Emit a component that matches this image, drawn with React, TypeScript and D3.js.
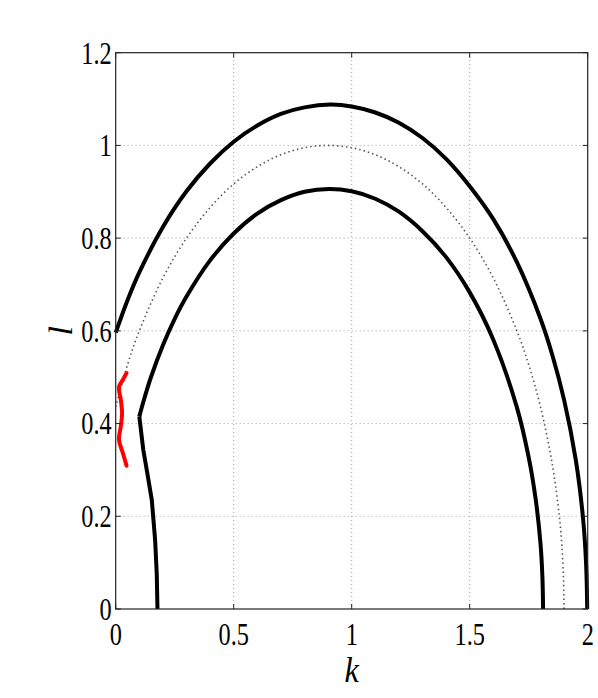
import React from 'react';
import * as d3 from 'd3';

// tick values
const kTicks = [0, 0.5, 1, 1.5, 2];
const lTicks = [0, 0.2, 0.4, 0.6, 0.8, 1, 1.2];

// outer solid curve [k, l]
const outerCurve: [number, number][] = [
  [0, 0.596], [0.05, 0.666], [0.1, 0.726], [0.2, 0.824], [0.3, 0.901], [0.4, 0.961],
  [0.5, 1.008], [0.6, 1.043], [0.7, 1.068], [0.8, 1.082], [0.91, 1.088], [1.0, 1.084],
  [1.1, 1.071], [1.2, 1.049], [1.3, 1.016], [1.4, 0.971], [1.5, 0.912], [1.6, 0.841],
  [1.7, 0.748], [1.8, 0.626], [1.85, 0.548], [1.9, 0.451], [1.95, 0.32], [1.98, 0.197],
  [1.993, 0.1], [1.998, 0],
];

// inner solid curve, upper arc from the kink
const innerArc: [number, number][] = [
  [0.1, 0.415], [0.12, 0.452], [0.15, 0.501], [0.2, 0.569], [0.25, 0.626], [0.3, 0.674],
  [0.4, 0.752], [0.5, 0.81], [0.6, 0.853], [0.7, 0.882], [0.8, 0.9], [0.905, 0.906],
  [1.0, 0.901], [1.1, 0.885], [1.2, 0.857], [1.3, 0.815], [1.4, 0.759], [1.5, 0.683],
  [1.6, 0.581], [1.7, 0.435], [1.75, 0.327], [1.78, 0.235], [1.8, 0.141], [1.808, 0.07],
  [1.811, 0],
];

// inner solid curve, lower branch below the kink
const innerLower: [number, number][] = [
  [0.1, 0.415], [0.117, 0.343], [0.135, 0.29], [0.153, 0.235], [0.167, 0.149],
  [0.174, 0.075], [0.177, 0],
];

// dotted curve
const dottedCurve: [number, number][] = [
  [0, 0.436], [0.05, 0.527], [0.1, 0.6], [0.2, 0.714], [0.3, 0.8], [0.4, 0.866],
  [0.5, 0.917], [0.6, 0.954], [0.7, 0.98], [0.8, 0.995], [0.9, 1.0], [1.0, 0.995],
  [1.1, 0.98], [1.2, 0.954], [1.3, 0.917], [1.4, 0.866], [1.5, 0.8], [1.6, 0.714],
  [1.7, 0.6], [1.75, 0.527], [1.8, 0.436], [1.85, 0.312], [1.88, 0.199], [1.89, 0.141],
  [1.897, 0.07], [1.9, 0],
];

// red bracket near the l axis
const redCurve: [number, number][] = [
  [0.046, 0.509], [0.03, 0.494], [0.014, 0.479], [0.022, 0.45], [0.027, 0.423],
  [0.022, 0.395], [0.014, 0.365], [0.03, 0.337], [0.046, 0.309],
];

export default function App() {
  const x = d3.scaleLinear().domain([0, 2]).range([115.7, 587.7]);
  const y = d3.scaleLinear().domain([0, 1.2]).range([609, 52.7]);

  const smooth = d3
    .line<[number, number]>()
    .x((d) => x(d[0]))
    .y((d) => y(d[1]))
    .curve(d3.curveCatmullRom);

  const straight = d3
    .line<[number, number]>()
    .x((d) => x(d[0]))
    .y((d) => y(d[1]));

  const [x0, x1] = x.range();
  const [y0, y1] = y.range();
  const font = '"Liberation Serif", "DejaVu Serif", serif';

  return (
    <svg
      width={598}
      height={698}
      style={{ position: 'absolute', left: 0, top: 0, background: '#fff' }}
    >
      {/* grid */}
      {kTicks.slice(1, -1).map((t) => (
        <line key={'gx' + t} x1={x(t)} x2={x(t)} y1={y0} y2={y1}
          stroke="#999" strokeWidth={0.9} strokeDasharray="1 3" />
      ))}
      {lTicks.slice(1, -1).map((t) => (
        <line key={'gy' + t} x1={x0} x2={x1} y1={y(t)} y2={y(t)}
          stroke="#999" strokeWidth={0.9} strokeDasharray="1 3" />
      ))}

      {/* curves */}
      <path d={smooth(dottedCurve) ?? ''} fill="none" stroke="#555"
        strokeWidth={1.6} strokeDasharray="1.5 3" />
      <path d={smooth(outerCurve) ?? ''} fill="none" stroke="#000"
        strokeWidth={4} strokeLinejoin="round" />
      <path d={smooth(innerArc) ?? ''} fill="none" stroke="#000"
        strokeWidth={4} strokeLinejoin="round" />
      <path d={straight(innerLower) ?? ''} fill="none" stroke="#000"
        strokeWidth={4} strokeLinejoin="round" />
      <path d={smooth(redCurve) ?? ''} fill="none" stroke="#f00"
        strokeWidth={4} strokeLinejoin="round" strokeLinecap="round" />

      {/* box */}
      <rect x={x0} y={y1} width={x1 - x0} height={y0 - y1}
        fill="none" stroke="#222" strokeWidth={1.2} />

      {/* ticks */}
      {kTicks.map((t) => (
        <g key={'tk' + t}>
          <line x1={x(t)} x2={x(t)} y1={y0} y2={y0 - 5} stroke="#222" />
          <line x1={x(t)} x2={x(t)} y1={y1} y2={y1 + 5} stroke="#222" />
        </g>
      ))}
      {lTicks.map((t) => (
        <g key={'tl' + t}>
          <line x1={x0} x2={x0 + 5} y1={y(t)} y2={y(t)} stroke="#222" />
          <line x1={x1} x2={x1 - 5} y1={y(t)} y2={y(t)} stroke="#222" />
        </g>
      ))}

      {/* tick labels */}
      {kTicks.map((t) => (
        <g key={'lk' + t} transform={`translate(${x(t)},645) scale(0.76,1)`}>
          <text textAnchor="middle" fontFamily={font} fontSize={32} fill="#000">
            {d3.format('~g')(t)}
          </text>
        </g>
      ))}
      {lTicks.map((t) => (
        <g key={'ll' + t} transform={`translate(${x0 - 4},${y(t)}) scale(0.76,1)`}>
          <text textAnchor="end" dy="0.34em" fontFamily={font} fontSize={32} fill="#000">
            {d3.format('~g')(t)}
          </text>
        </g>
      ))}

      {/* axis titles */}
      <g transform={`translate(${(x0 + x1) / 2},682) scale(0.9,1)`}>
        <text textAnchor="middle" fontFamily={font} fontStyle="italic" fontSize={36}>
          k
        </text>
      </g>
      <g transform={`translate(72,${(y0 + y1) / 2}) rotate(-90)`}>
        <text textAnchor="middle" fontFamily={font} fontStyle="italic" fontSize={34}>
          l
        </text>
      </g>
    </svg>
  );
}
